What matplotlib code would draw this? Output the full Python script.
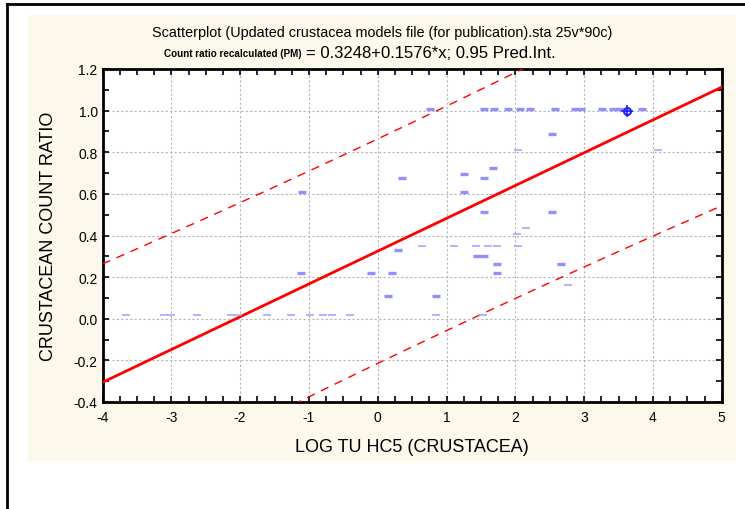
import numpy as np
import matplotlib
matplotlib.use('Agg')
import matplotlib.pyplot as plt
from matplotlib.lines import Line2D
from matplotlib.patches import Rectangle
from matplotlib.ticker import MultipleLocator, FormatStrFormatter

plt.rcParams['font.family'] = ['Liberation Sans', 'DejaVu Sans']
plt.rcParams['axes.unicode_minus'] = False

# model from the subtitle
intercept = 0.3248
slope = 0.1576
# prediction interval parameters
n_cases = 90
t_val = 1.987
resid_sd = 0.2697
x_mean = 0.45
sxx = 170.4

# points drawn as thin dashes
x_thin = [-3.66, -3.10, -3.00, -2.63, -2.13, -2.03, -1.61, -1.26, -0.98, -0.80, -0.66, -0.40, 0.85, 1.53,
          2.77, 0.64, 1.11, 1.43, 1.61, 1.73, 2.04, 2.03, 2.16, 2.04, 4.08]
y_thin = [0.02] * 14 + [0.16] + [0.351] * 6 + [0.409, 0.436, 0.81, 0.81]

# points drawn as bold dashes
x_bold = [0.15, 0.85, -1.11, -0.10, 0.21, 1.73, 1.73, 2.66, 1.45, 1.54, 0.30, 1.55, 2.54,
          -1.10, 1.25, 0.36, 1.55, 1.25, 1.67, 2.54,
          0.76, 1.55, 1.69, 1.90, 2.07, 2.21, 2.58, 2.87, 2.95, 3.26, 3.42, 3.52, 3.84]
y_bold = [0.11, 0.11, 0.218, 0.218, 0.218, 0.218, 0.263, 0.263, 0.303, 0.303, 0.33, 0.514, 0.514,
          0.61, 0.61, 0.676, 0.676, 0.694, 0.723, 0.888] + [1.01] * 13

# overlapping cluster marked with a crosshair
x_cluster = [3.62]
y_cluster = [1.0]

fig = plt.figure(figsize=(7.45, 5.1), dpi=100)
fig.patch.set_facecolor('white')

# cream panel and outer frame
fig.add_artist(Rectangle((28 / 745, 1 - 463 / 510), (736 - 28) / 745, (463 - 16) / 510,
                         transform=fig.transFigure, facecolor='#fdf8ec', edgecolor='none', zorder=0))
fig.add_artist(Line2D([7 / 745, 7 / 745], [0, 1 - 5 / 510], transform=fig.transFigure, color='black', lw=2))
fig.add_artist(Line2D([7 / 745, 1], [1 - 5 / 510, 1 - 5 / 510], transform=fig.transFigure, color='black', lw=2))

ax = fig.add_axes([102.5 / 745, 1 - 403 / 510, (721.7 - 102.5) / 745, (403 - 70) / 510])
ax.set_facecolor('white')

xs = np.linspace(-4, 5, 400)
fit = intercept + slope * xs
half = t_val * resid_sd * np.sqrt(1 + 1 / n_cases + (xs - x_mean) ** 2 / sxx)

ax.plot(xs, fit, color='#ff0000', lw=2, zorder=3)
ax.plot(xs, fit + half, color='#ff0000', lw=1, dashes=(6, 5), zorder=3)
ax.plot(xs, fit - half, color='#ff0000', lw=1, dashes=(6, 5), zorder=3)

ax.plot(x_thin, y_thin, ls='none', marker='_', ms=5.5, mew=1.2, color='#a4a4ff', zorder=4)
ax.plot(x_bold, y_bold, ls='none', marker='_', ms=6, mew=2.4, color='#9090ff', zorder=4)
ax.plot(x_cluster, y_cluster, ls='none', marker='o', ms=5, mfc='none', mec='#1e1eff', mew=1.5, zorder=5)
ax.plot(x_cluster, y_cluster, ls='none', marker='+', ms=8, color='#1e1eff', mew=1.2, zorder=5)

ax.set_xlim(-4, 5)
ax.set_ylim(-0.4, 1.2)
ax.xaxis.set_major_locator(MultipleLocator(1))
ax.xaxis.set_minor_locator(MultipleLocator(0.25))
ax.yaxis.set_major_locator(MultipleLocator(0.2))
ax.yaxis.set_minor_locator(MultipleLocator(0.1))
ax.yaxis.set_major_formatter(FormatStrFormatter('%.1f'))
ax.tick_params(which='both', direction='in', top=True, right=True, length=4, width=1.2, labelsize=10)
ax.tick_params(axis='x', pad=6)
ax.grid(True, which='major', color='#b4b4b4', ls=(0, (2, 2)), lw=0.8)
for s in ax.spines.values():
    s.set_linewidth(2)

ax.set_xlabel('LOG TU HC5 (CRUSTACEA)', fontsize=13, labelpad=10)
ax.set_ylabel('CRUSTACEAN COUNT RATIO', fontsize=13, labelpad=12)

fig.text(382 / 745, 1 - 33 / 510, 'Scatterplot (Updated crustacea models file (for publication).sta 25v*90c)',
         ha='center', va='center', fontsize=10.4)
fig.text(302 / 745, 1 - 54 / 510, 'Count ratio recalculated (PM)', ha='right', va='center',
         fontsize=7.1, fontweight='bold')
fig.text(306 / 745, 1 - 54 / 510, '= 0.3248+0.1576*x; 0.95 Pred.Int.', ha='left', va='center', fontsize=12)

fig.savefig('out.png', dpi=100, facecolor='white')
